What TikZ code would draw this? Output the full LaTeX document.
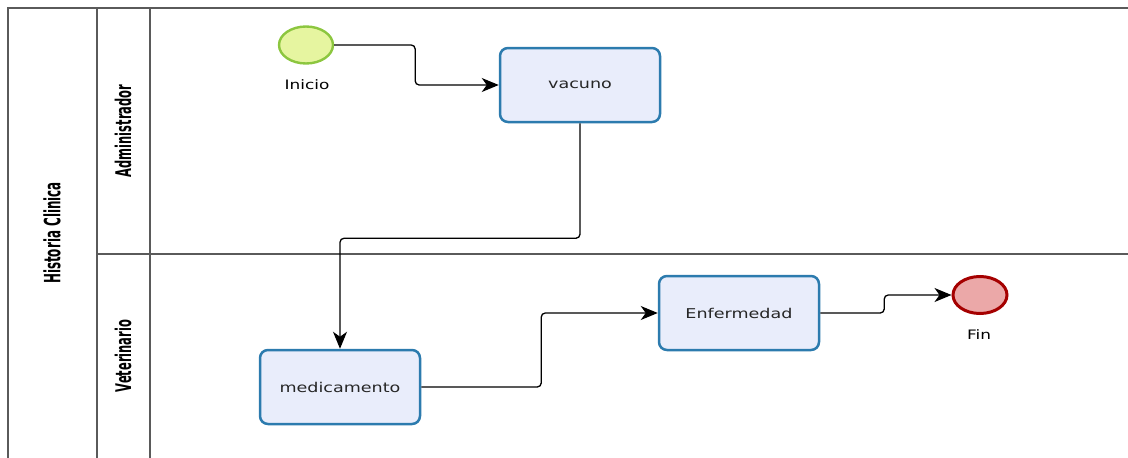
\documentclass[tikz,border=0pt]{standalone}
\usepackage{fontspec}
\usepackage{graphicx}
\usetikzlibrary{arrows.meta,shapes.geometric}
\newfontfamily\bpmnfont{DejaVu Sans}[FakeStretch=1.3]
\newfontfamily\lanefont{DejaVu Sans}[FakeStretch=0.85]
\definecolor{taskfill}{HTML}{E9EDFB}
\definecolor{taskline}{HTML}{2C7BAE}
\definecolor{startfill}{HTML}{E6F5A0}
\definecolor{startline}{HTML}{8CC63F}
\definecolor{endfill}{HTML}{EBA8A8}
\definecolor{endline}{HTML}{A50000}
\definecolor{poolline}{HTML}{5A5A5A}

\begin{document}
\begin{tikzpicture}[x=1pt,y=-1pt,
    pool/.style={draw=poolline, line width=1.3pt},
    task/.style={draw=taskline, fill=taskfill, line width=2.5pt, rounded corners=8pt,
      minimum width=160pt, minimum height=74pt, inner sep=0pt,
      font=\bpmnfont\fontsize{13.5}{15}\selectfont, text=black!85},
    startev/.style={ellipse, draw=startline, fill=startfill, line width=2.4pt,
      minimum width=54pt, minimum height=37pt, inner sep=0pt},
    endev/.style={ellipse, draw=endline, fill=endfill, line width=3pt,
      minimum width=54pt, minimum height=37pt, inner sep=0pt},
    evlabel/.style={font=\bpmnfont\fontsize{13}{14}\selectfont},
    lanelabel/.style={rotate=90, font=\lanefont\bfseries\fontsize{13.5}{15}\selectfont},
    flow/.style={draw=black, line width=1.3pt, rounded corners=4pt,
      -{Stealth[length=17pt, width=14pt, inset=5pt]}}]
    \useasboundingbox (0,0) rectangle (1128,458);
    % Pool and lanes
    \draw[pool] (8,458) -- (8,8) -- (1128,8);
    \draw[pool] (97,8) -- (97,458);
    \draw[pool] (150,8) -- (150,458);
    \draw[pool] (97,254) -- (1128,254);
    \node[lanelabel, font=\lanefont\bfseries\fontsize{14}{16}\selectfont] (pool) at (52,233)
      {\scalebox{1}[1.6]{Historia Clinica}};
    \node[lanelabel] (admin) at (123,131) {\scalebox{1}[1.6]{Administrador}};
    \node[lanelabel] (vet) at (123,356) {\scalebox{1}[1.6]{Veterinario}};
    % Events
    \node[startev] (inicio) at (306,45) {};
    \node[evlabel] (inicioLbl) at (307,85) {Inicio};
    \node[endev] (fin) at (980,295) {};
    \node[evlabel] (finLbl) at (979,335) {Fin};
    % Tasks
    \node[task] (vacuno) at (580,85) {vacuno};
    \node[task] (medicamento) at (340,387) {medicamento};
    \node[task] (enfermedad) at (739,313) {Enfermedad};
    % Sequence flows
    \draw[flow] (inicio.east) -- ++(81,0) |- (vacuno.west);
    \draw[flow] (vacuno.south) -- ++(0,115) -| (medicamento.north);
    \draw[flow] (medicamento.east) -- ++(120,0) |- (enfermedad.west);
    \draw[flow] (enfermedad.east) -- ++(64,0) |- (fin.west);
\end{tikzpicture}
\end{document}
